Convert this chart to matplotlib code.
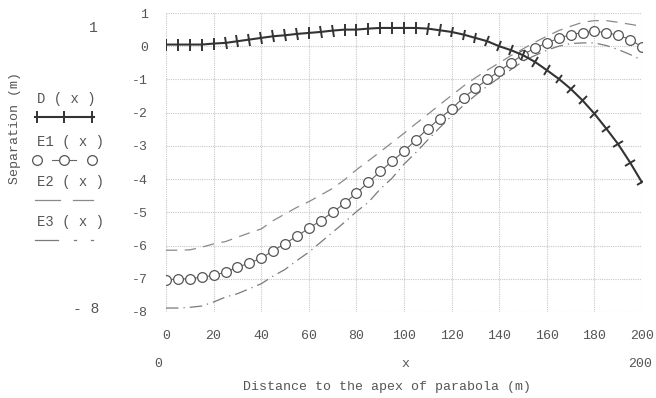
import matplotlib
matplotlib.use("Agg")
import matplotlib.pyplot as plt
import numpy as np
from matplotlib.markers import MarkerStyle
from matplotlib.transforms import Affine2D

plt.rcParams['font.family'] = ['Liberation Mono', 'DejaVu Sans Mono']

# distance to apex, every 5 m
x = np.arange(0, 205, 5)

D = [0.05, 0.05, 0.05, 0.05, 0.08, 0.1, 0.15, 0.2, 0.25, 0.3,
     0.33, 0.37, 0.4, 0.43, 0.47, 0.5, 0.5, 0.53, 0.55, 0.55,
     0.55, 0.55, 0.53, 0.48, 0.43, 0.35, 0.25, 0.15, 0.0, -0.12,
     -0.27, -0.47, -0.72, -0.98, -1.28, -1.63, -2.03, -2.48, -2.95, -3.5,
     -4.1]

E1 = [-7.04, -7.0, -7.0, -6.95, -6.9, -6.8, -6.65, -6.53, -6.38, -6.16,
      -5.94, -5.72, -5.48, -5.25, -5.0, -4.73, -4.42, -4.1, -3.77, -3.46,
      -3.16, -2.82, -2.48, -2.18, -1.88, -1.55, -1.27, -1.0, -0.75, -0.5,
      -0.25, -0.06, 0.1, 0.24, 0.35, 0.41, 0.45, 0.41, 0.33, 0.2,
      -0.02]

E2 = [-6.14, -6.14, -6.13, -6.05, -5.95, -5.88, -5.75, -5.62, -5.5, -5.25,
      -5.05, -4.85, -4.68, -4.48, -4.28, -4.02, -3.72, -3.45, -3.18, -2.9,
      -2.62, -2.33, -2.05, -1.76, -1.48, -1.2, -0.95, -0.72, -0.5, -0.28,
      -0.08, 0.12, 0.3, 0.47, 0.6, 0.72, 0.77, 0.77, 0.72, 0.66,
      0.6]

E3 = [-7.88, -7.88, -7.86, -7.82, -7.7, -7.55, -7.45, -7.3, -7.15, -6.92,
      -6.72, -6.45, -6.2, -5.9, -5.6, -5.3, -4.98, -4.7, -4.3, -3.97,
      -3.55, -3.2, -2.82, -2.45, -2.1, -1.78, -1.48, -1.2, -0.95, -0.7,
      -0.45, -0.28, -0.12, 0.0, 0.08, 0.1, 0.1, 0.02, -0.1, -0.25,
      -0.42]

xticks = list(range(0, 201, 20))
yticks = list(range(1, -9, -1))
legend_labels = ["D ( x )", "E1 ( x )", "E2 ( x )", "E3 ( x )"]

TXT = '#555555'
FS = 9.5

W, H = 656, 398
fig = plt.figure(figsize=(W / 100, H / 100), dpi=100)

# pixel-space overlay for loose texts and the hand-made legend
bg = fig.add_axes([0, 0, 1, 1])
bg.set_xlim(0, W)
bg.set_ylim(H, 0)
bg.axis('off')

ax = fig.add_axes([166 / W, 1 - 312 / H, (642 - 166) / W, (312 - 13) / H])
ax.set_xlim(0, 200)
ax.set_ylim(-8, 1)
for s in ax.spines.values():
    s.set_visible(False)
ax.set_xticks(xticks)
ax.set_yticks(yticks)
ax.set_xticklabels([str(v) for v in xticks])
ax.set_yticklabels([str(v) for v in yticks])
ax.tick_params(length=0, labelsize=FS, labelcolor=TXT, pad=13)
ax.grid(True, color='#c8c8c8', linestyle=(0, (1, 1)), linewidth=0.8)
ax.set_axisbelow(True)

# bands
ax.plot(x, E2, color='#8a8a8a', lw=0.9, linestyle=(0, (9, 6)))
ax.plot(x, E3, color='#7a7a7a', lw=0.9, linestyle=(0, (10, 4, 1, 4)))

# E1 circles
ax.plot(x, E1, color='#666666', lw=0.8, marker='o', markersize=7,
        markerfacecolor='white', markeredgecolor='#555555', markeredgewidth=0.9)

# D line with ticks perpendicular to the curve
ax.plot(x, D, color='#333333', lw=1.5)
pts = ax.transData.transform(np.column_stack([x, D]))
dxy = np.gradient(pts, axis=0)
angles = np.degrees(np.arctan2(dxy[:, 1], dxy[:, 0]))
for xi, yi, a in zip(x, D, angles):
    m = MarkerStyle('|', transform=Affine2D().rotate_deg(a))
    ax.plot([xi], [yi], marker=m, markersize=8, markeredgewidth=1.4,
            color='#333333', linestyle='none')

# loose texts
bg.text(93, 28, "1", fontsize=FS + 1, color=TXT, ha='center', va='center')
bg.text(86, 309, "- 8", fontsize=FS + 1, color=TXT, ha='center', va='center')
bg.text(158, 364, "0", fontsize=FS, color=TXT, ha='center', va='center')
bg.text(405, 364, "x", fontsize=FS, color=TXT, ha='center', va='center')
bg.text(640, 364, "200", fontsize=FS, color=TXT, ha='center', va='center')
bg.text(387, 387, "Distance to the apex of parabola (m)", fontsize=FS,
        color=TXT, ha='center', va='center')
bg.text(15, 128, "Separation (m)", fontsize=FS, color=TXT, ha='center',
        va='center', rotation=90)

# legend
lx = [37, 64, 92]
bg.text(37, 99, legend_labels[0], fontsize=FS + 0.5, color=TXT, va='center')
bg.plot([35, 94], [117, 117], color='#333333', lw=1.5)
bg.plot(lx, [117] * 3, marker='|', markersize=8, markeredgewidth=1.4,
        color='#333333', linestyle='none')

bg.text(37, 142, legend_labels[1], fontsize=FS + 0.5, color=TXT, va='center')
bg.plot([52, 59], [160, 160], color='#666666', lw=0.8)
bg.plot([69, 76], [160, 160], color='#666666', lw=0.8)
bg.plot(lx, [160] * 3, marker='o', markersize=7, markerfacecolor='white',
        markeredgecolor='#555555', markeredgewidth=0.9, linestyle='none')

bg.text(37, 182, legend_labels[2], fontsize=FS + 0.5, color=TXT, va='center')
bg.plot([35, 60], [200, 200], color='#8a8a8a', lw=0.9)
bg.plot([73, 93], [200, 200], color='#8a8a8a', lw=0.9)

bg.text(37, 222, legend_labels[3], fontsize=FS + 0.5, color=TXT, va='center')
bg.plot([35, 58], [240, 240], color='#7a7a7a', lw=0.9)
bg.plot([74, 76], [240, 240], color='#7a7a7a', lw=0.9)
bg.plot([91, 93], [240, 240], color='#7a7a7a', lw=0.9)

fig.savefig("out.png", dpi=100)
